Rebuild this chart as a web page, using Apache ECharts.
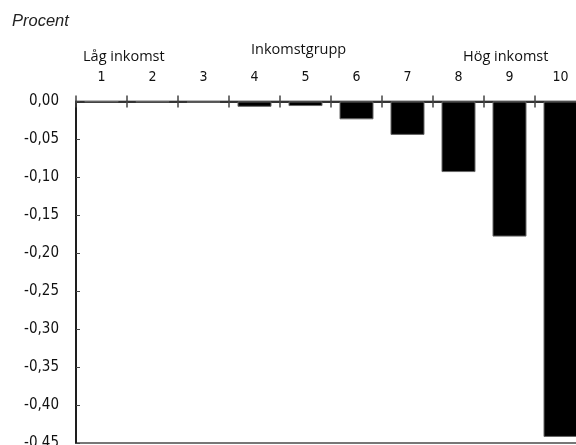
<!DOCTYPE html>
<html>
<head>
<meta charset="utf-8">
<script src="https://cdn.jsdelivr.net/npm/echarts@6/dist/echarts.min.js"></script>
<style>
  html, body { margin: 0; padding: 0; background: #fff; }
  #main { width: 576px; height: 445px; }
</style>
</head>
<body>
<div id="main"></div>
<script>
// inkomstgrupper 1-10
let groups = ['1', '2', '3', '4', '5', '6', '7', '8', '9', '10'];
// förändring, procent
let values = [-0.0005, -0.0008, -0.0015, -0.007, -0.006, -0.0235, -0.044, -0.093, -0.178, -0.442];
let yTicks = [0, -0.05, -0.10, -0.15, -0.20, -0.25, -0.30, -0.35, -0.40, -0.45];

let narrow = '"Liberation Sans Narrow", "DejaVu Sans Condensed", sans-serif';
let labelFont = { fontFamily: 'Open Sans', fontWeight: 'normal', fontSize: 14.5, color: '#111' };

let myChart = echarts.init(document.getElementById('main'));
let option = {
    animation: false,
    title: [
        { text: 'Procent', left: 12, top: 13, padding: 0,
          textStyle: { fontFamily: 'Liberation Sans', fontStyle: 'italic', fontWeight: 'normal', fontSize: 16.5, color: '#222' } },
        { text: 'Låg inkomst', left: 83, top: 49, padding: 0, textStyle: labelFont },
        { text: 'Inkomstgrupp', left: 251, top: 42, padding: 0, textStyle: labelFont },
        { text: 'Hög inkomst', left: 463, top: 49, padding: 0, textStyle: labelFont }
    ],
    grid: {
        left: 76, top: 101.5, width: 510, height: 341.5,
        outerBoundsMode: 'none', containLabel: false,
        show: true, borderColor: '#777', borderWidth: 2, backgroundColor: 'transparent'
    },
    xAxis: [
        {
            // labels and upward ticks along the zero line
            type: 'category', data: groups, position: 'top',
            axisLine: { onZero: false, lineStyle: { color: '#333', width: 2 } },
            axisTick: { show: true, length: 6, lineStyle: { color: '#444', width: 1.5 } },
            axisLabel: { margin: 17, fontFamily: narrow, fontSize: 14, color: '#111' }
        },
        {
            // downward half of the ticks, moved onto zero
            type: 'category', data: groups, position: 'bottom',
            axisLine: { show: false, onZero: true },
            axisTick: { show: true, length: 6, lineStyle: { color: '#444', width: 1.5 } },
            axisLabel: { show: false }
        }
    ],
    yAxis: {
        type: 'value', min: -0.45, max: 0, interval: 0.05,
        axisLine: { show: true, lineStyle: { color: '#000', width: 1.5 } },
        axisTick: { show: true, inside: true, length: 4, lineStyle: { color: '#444' } },
        splitLine: { show: false },
        axisLabel: {
            margin: 17, fontFamily: narrow, fontSize: 15, color: '#111',
            formatter: function (v) {
                let t = yTicks.find(x => Math.abs(x - v) < 1e-9);
                return t === undefined ? '' : t.toFixed(2).replace('.', ',');
            }
        }
    },
    series: [{
        type: 'bar', data: values, barWidth: 34, xAxisIndex: 0,
        itemStyle: { color: '#000', borderColor: '#666', borderWidth: 1 }
    }]
};
myChart.setOption(option);
</script>
</body>
</html>
